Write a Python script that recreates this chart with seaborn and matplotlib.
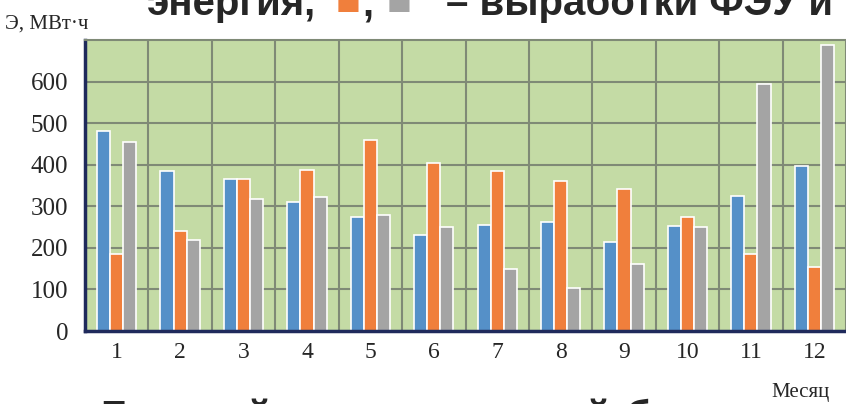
import numpy as np
import pandas as pd
import matplotlib
matplotlib.use('Agg')
import matplotlib.pyplot as plt  # type: ignore
import seaborn as sns  # type: ignore

# monthly energy, MWh
months = [str(m) for m in range(1, 13)]
consumption = [480, 385, 365, 310, 275, 232, 255, 262, 215, 252, 325, 396]
pv_output_1 = [185, 240, 365, 388, 460, 403, 385, 362, 341, 274, 186, 154]
pv_output_2 = [455, 218, 318, 322, 278, 250, 148, 103, 160, 251, 595, 688]
series_names = ['Потребление', 'Выработка ФЭУ', 'Выработка ВЭУ']
y_ticks = [0, 100, 200, 300, 400, 500, 600]

bar_colors = ['#5590c8', '#f07f3c', '#a4a4a4']
navy = '#1f2a5c'
grid_color = '#7f8a76'
bg_green = '#c4dba5'

df = pd.DataFrame({
    'Месяц': months * 3,
    'Э': consumption + pv_output_1 + pv_output_2,
    'ряд': np.repeat(series_names, len(months)),
})

sns.set_style('white')
plt.rcParams['font.family'] = ['Liberation Serif', 'DejaVu Serif']

W, H = 846, 404
fig = plt.figure(figsize=(W / 100, H / 100), dpi=100)
ax = fig.add_axes([85 / W, 73 / H, 761 / W, 291 / H])

sns.barplot(data=df, x='Месяц', y='Э', hue='ряд', order=months,
            hue_order=series_names, palette=bar_colors, saturation=1,
            width=0.62, edgecolor='white', linewidth=1.2, legend=False, ax=ax)

ax.set_facecolor(bg_green)
ax.set_xlim(-0.5, 11.5)
ax.set_ylim(0, 700)
ax.set_yticks(y_ticks)
ax.set_xticks(range(len(months)))
ax.set_xticks(np.arange(-0.5, len(months), 1), minor=True)
ax.set_xlabel('')
ax.set_ylabel('')

ax.grid(axis='y', which='major', color=grid_color, lw=1.5)
ax.grid(axis='x', which='minor', color=grid_color, lw=1.5)
ax.set_axisbelow(True)

ax.tick_params(axis='x', which='major', length=0, pad=8, labelsize=17)
ax.tick_params(axis='x', which='minor', length=8, width=2, color=navy,
               direction='out')
ax.tick_params(axis='y', length=7, width=2, color=navy, labelsize=18, pad=5)

for side in ['left', 'bottom']:
    ax.spines[side].set_color(navy)
    ax.spines[side].set_linewidth(2.5)
ax.spines['top'].set_color(grid_color)
ax.spines['top'].set_linewidth(1.5)
ax.spines['right'].set_visible(False)

fig.text(5 / W, 1 - 29 / H, 'Э, МВт·ч', fontsize=15, va='baseline')
fig.text(830 / W, 1 - 397 / H, 'Месяц', fontsize=15, va='baseline', ha='right')

# caption fragments of the surrounding page, cut by the crop
bold = dict(family=['Liberation Sans', 'DejaVu Sans'], fontweight='bold',
            fontsize=29, va='baseline')
top_base = 1 - 15 / H
fig.text(147 / W, top_base, 'энергия,', **bold)
fig.text(362 / W, top_base, ',', **bold)
fig.text(446 / W, top_base, '– выработки ФЭУ и', **bold)
square = dict(family=['DejaVu Sans'], fontsize=19, va='baseline')
fig.text(336 / W, 1 - 9 / H, '■', color=bar_colors[1], **square)
fig.text(387 / W, 1 - 9 / H, '■', color=bar_colors[2], **square)

bottom_base = 1 - 429 / H
fig.text(100 / W, bottom_base, 'Б', **bold)
fig.text(246 / W, bottom_base, 'й', **bold)
fig.text(585 / W, bottom_base, 'й', **bold)
fig.text(625 / W, bottom_base, 'б', **bold)

fig.savefig('out.png', dpi=100)
